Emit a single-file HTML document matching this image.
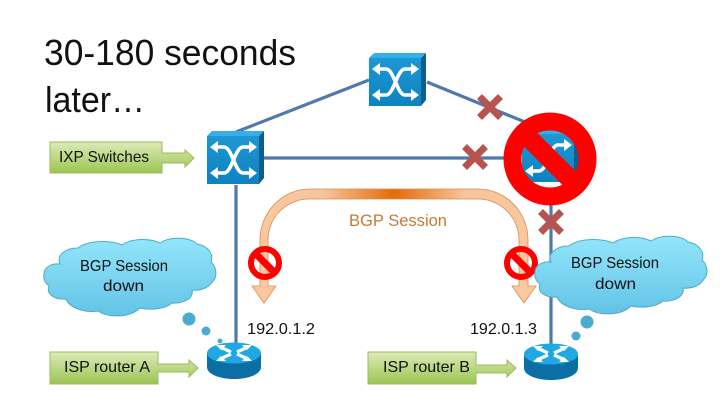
<!DOCTYPE html>
<html><head><meta charset="utf-8"><style>
html,body{margin:0;padding:0;background:#fff;width:720px;height:405px;overflow:hidden}
svg{display:block}
text{font-family:"Liberation Sans",sans-serif;fill:#111}
</style></head><body>
<svg width="720" height="405" viewBox="0 0 720 405" xmlns="http://www.w3.org/2000/svg">
<defs>
<linearGradient id="g" x1="0" y1="0" x2="0" y2="1"><stop offset="0" stop-color="#dcebb8"/><stop offset="1" stop-color="#9cc552"/></linearGradient>
<linearGradient id="c" x1="0" y1="0" x2="0" y2="1"><stop offset="0" stop-color="#93e6fb"/><stop offset="1" stop-color="#63c3e6"/></linearGradient>
<linearGradient id="o" x1="0" y1="0" x2="1" y2="0"><stop offset="0" stop-color="#fac9a0"/><stop offset=".25" stop-color="#f8c49b"/><stop offset=".5" stop-color="#e36c0a"/><stop offset=".75" stop-color="#f8c49b"/><stop offset="1" stop-color="#fac9a0"/></linearGradient>
<linearGradient id="sw" x1="0" y1="0" x2="0" y2="1"><stop offset="0" stop-color="#1f97d4"/><stop offset="1" stop-color="#0c83c0"/></linearGradient>
<g id="switch">
<polygon points="0,5 5,0 57,0 52,5" fill="#35b0e6"/>
<polygon points="52,5 57,0 57,47 52,53" fill="#0b5f8c"/>
<rect x="0" y="5" width="52" height="48" fill="url(#sw)"/>
<g fill="none" stroke="#fff" stroke-width="3.6">
<path d="M8 16H17C25 16 28 42 36 42H45"/>
<path d="M8 42H17C25 42 28 16 36 16H45"/>
</g>
<g fill="#fff">
<polygon points="3,16 11,10 11,22"/><polygon points="50,16 42,10 42,22"/>
<polygon points="3,42 11,36 11,48"/><polygon points="50,42 42,36 42,48"/>
</g>
</g>
<g id="router">
<path d="M0 12V25C0 32 12 37 27 37S54 32 54 25V12Z" fill="#0b6fa5"/>
<ellipse cx="27" cy="11" rx="27" ry="10.5" fill="#1fa8e4"/>
<g stroke="#fff" stroke-width="3.2" fill="none">
<path d="M13 5L24 10M41 17L30 12M41 5L30 10M13 17L24 12"/>
</g>
<g fill="#fff">
<polygon points="9,3 19,3 14,8"/><polygon points="45,19 35,19 40,14"/>
<polygon points="45,3 35,3 40,8"/><polygon points="9,19 19,19 14,14"/>
</g>
</g>
<path id="cloud" d="M44 274C44 267 52 263 60 264C56 255 66 248 78 248C88 240 110 240 122 245C132 238 150 238 160 243C170 236 190 237 197 244C208 246 214 254 211 262C216 266 218 276 213 281C209 288 200 291 192 290C194 298 184 304 172 303C164 310 148 310 140 308C130 318 108 318 98 311C84 313 70 308 66 299C54 300 46 294 49 286C45 283 43 279 44 274Z" fill="url(#c)" stroke="#4bacc6" stroke-width="1"/>
<g id="x"><path d="M-10.5 -10.5L10.5 10.5M10.5 -10.5L-10.5 10.5" stroke="#b85450" stroke-width="7" fill="none"/></g>
<clipPath id="cp"><circle cx="550" cy="159" r="30"/></clipPath>
</defs>

<g stroke="#4f79ad" stroke-width="3.2" fill="none">
<path d="M236 132L369 80"/>
<path d="M427 82L525 122"/>
<path d="M264 158H510"/>
<path d="M236 185V343"/>
<path d="M551 200V344"/>
</g>

<use href="#switch" x="369" y="53"/>
<use href="#switch" x="207" y="131"/>

<use href="#x" x="490" y="107"/>
<use href="#x" x="475" y="157"/>
<use href="#x" x="551" y="222"/>

<g clip-path="url(#cp)"><use href="#switch" x="522" y="129"/></g>
<circle cx="550" cy="159" r="37.5" fill="none" stroke="#f00" stroke-width="18"/>
<line x1="522" y1="131" x2="578" y2="187" stroke="#f00" stroke-width="19"/>

<path d="M260 286V240A50 51 0 0 1 310 189H478A50 51 0 0 1 528 240V286H536L524 303L512 286H519V240A41 41 0 0 0 478 199H310A41 41 0 0 0 268 240V286H276L264 303L252 286Z" fill="url(#o)" stroke="#d98c4e" stroke-width=".8"/>
<text x="349" y="226" font-size="17" textLength="98" lengthAdjust="spacingAndGlyphs" style="fill:#c67a35">BGP Session</text>

<g fill="none" stroke="#f00">
<circle cx="265" cy="263" r="14" stroke-width="6"/>
<line x1="256" y1="254" x2="274" y2="272" stroke-width="7"/>
<circle cx="521" cy="263" r="14" stroke-width="6"/>
<line x1="512" y1="254" x2="530" y2="272" stroke-width="7"/>
</g>

<use href="#cloud"/>
<use href="#cloud" transform="translate(491,-2)"/>
<g fill="#4bacd0">
<circle cx="189" cy="319" r="6.5"/><circle cx="206" cy="331" r="4.5"/><circle cx="220" cy="341" r="2.5"/>
<circle cx="587" cy="322" r="6.5"/><circle cx="576" cy="336" r="4.5"/>
</g>
<text x="80" y="271" font-size="16" textLength="88" lengthAdjust="spacingAndGlyphs">BGP Session</text>
<text x="103" y="291" font-size="16" textLength="41" lengthAdjust="spacingAndGlyphs">down</text>
<text x="571" y="268" font-size="16" textLength="88" lengthAdjust="spacingAndGlyphs">BGP Session</text>
<text x="595" y="289" font-size="16" textLength="41" lengthAdjust="spacingAndGlyphs">down</text>

<use href="#router" x="207" y="342"/>
<use href="#router" x="524" y="343"/>

<g fill="url(#g)" stroke="#9bbb59" stroke-width="1">
<path d="M50 142H162V153H185V150L194 158L185 167V163H162V173H50Z"/>
<path d="M50 352H158V364H189V360L198 368L189 377V372H158V384H50Z"/>
<path d="M368 352H476V365H507V360L516 368L507 377V373H476V384H368Z"/>
</g>
<text x="59" y="162" font-size="16" textLength="90" lengthAdjust="spacingAndGlyphs">IXP Switches</text>
<text x="64" y="372" font-size="16" textLength="86" lengthAdjust="spacingAndGlyphs">ISP router A</text>
<text x="383" y="372" font-size="16" textLength="87" lengthAdjust="spacingAndGlyphs">ISP router B</text>
<text x="247" y="334" font-size="16" textLength="68" lengthAdjust="spacingAndGlyphs">192.0.1.2</text>
<text x="470" y="334" font-size="16" textLength="67" lengthAdjust="spacingAndGlyphs">192.0.1.3</text>

<text x="44" y="65" font-size="36" textLength="252" lengthAdjust="spacingAndGlyphs">30-180 seconds</text>
<text x="45" y="112" font-size="36" textLength="100" lengthAdjust="spacingAndGlyphs">later…</text>
</svg>
</body></html>
